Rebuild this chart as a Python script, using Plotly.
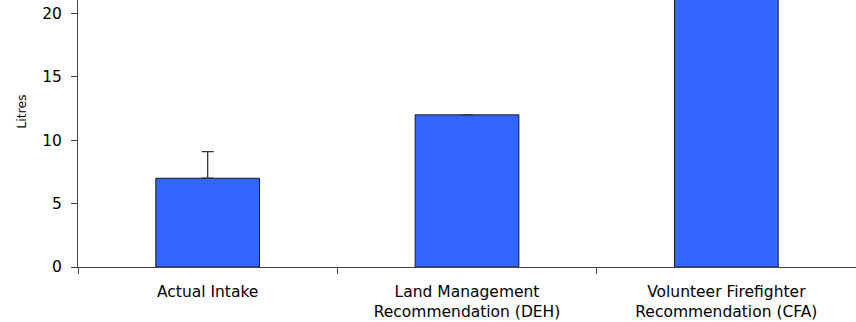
import plotly.graph_objects as go

categories = ["Actual Intake", "Land Management<br>Recommendation (DEH)", "Volunteer Firefighter<br>Recommendation (CFA)"]
litres = [7, 12, 24]
err_plus = [2.1, None, None]
err_minus = [0, None, None]
y_ticks = [0, 5, 10, 15, 20]

fig = go.Figure(go.Bar(
    x=categories, y=litres,
    marker=dict(color="#3366FF", line=dict(color="#1a1a1a", width=1)),
    error_y=dict(type="data", array=err_plus, arrayminus=err_minus, symmetric=False,
                 color="#333333", thickness=1.3, width=6),
    hoverinfo="skip",
))

fig.update_layout(
    width=856, height=322,
    margin=dict(l=78, r=0, t=0, b=55, autoexpand=False),
    plot_bgcolor="white", paper_bgcolor="white",
    bargap=0.6, showlegend=False,
    font=dict(family="DejaVu Sans, Arial", size=15.5, color="black"),
    annotations=[dict(text="Litres", xref="paper", yref="paper", x=-0.073, y=0.582,
                      xanchor="center", yanchor="middle", textangle=-90,
                      showarrow=False, font=dict(size=12.5))],
)
fig.update_xaxes(
    type="category", range=[-0.5, 2.5], tickson="boundaries",
    ticks="outside", ticklen=6, tickcolor="#444", tickwidth=1,
    showline=True, linecolor="#444", linewidth=1, showgrid=False,
    tickfont=dict(size=15.5), automargin=False, ticklabelstandoff=10,
)
fig.update_yaxes(
    range=[0, 21.06], tickvals=y_ticks, ticks="outside", ticklen=6,
    tickcolor="#444", tickwidth=1, showline=True, linecolor="#444", linewidth=1,
    showgrid=False, zeroline=False, ticklabelstandoff=6, automargin=False,
    tickfont=dict(size=15.5),
)
fig.write_html("out.html", config={"displayModeBar": False},
               post_script="document.body.style.margin='0';")
